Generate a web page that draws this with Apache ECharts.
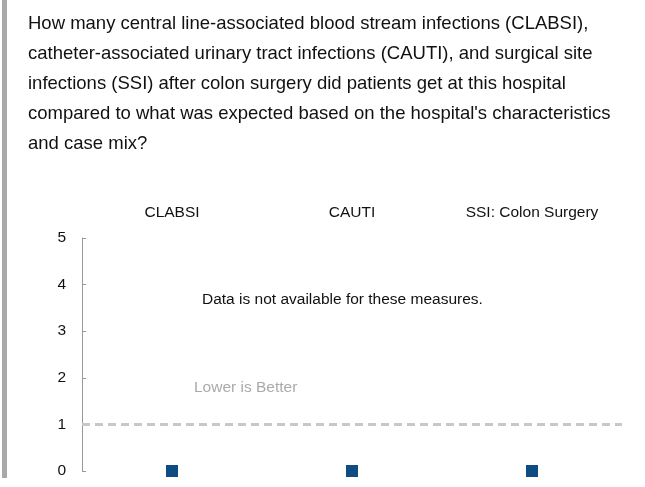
<!DOCTYPE html>
<html>
<head>
<meta charset="utf-8">
<script src="https://cdn.jsdelivr.net/npm/echarts@6/dist/echarts.min.js"></script>
<style>
  html, body { margin: 0; padding: 0; background: #fff; }
  #main { width: 645px; height: 487px; }
</style>
</head>
<body>
<div id="main"></div>
<script>
// measures shown across the top
var categories = ['CLABSI', 'CAUTI', 'SSI: Colon Surgery'];
// hospital values (no data available, drawn at 0)
var hospitalValues = [0, 0, 0];
// expected ratio reference line
var benchmark = 1;
var yTicks = [0, 1, 2, 3, 4, 5];

var questionLines = [
    'How many central line-associated blood stream infections (CLABSI),',
    'catheter-associated urinary tract infections (CAUTI), and surgical site',
    'infections (SSI) after colon surgery did patients get at this hospital',
    "compared to what was expected based on the hospital's characteristics",
    'and case mix?'
];

var font = 'Liberation Sans, Arial, sans-serif';
var myChart = echarts.init(document.getElementById('main'));

var option = {
    animation: false,
    grid: { left: 82, right: 23, top: 238, bottom: 16 },
    graphic: [
        { type: 'rect', left: 2, top: 0, shape: { width: 5, height: 478 }, style: { fill: '#a9a9a9' } },
        {
            type: 'text', left: 28, top: 9,
            style: { text: questionLines.join('\n'), font: '18.5px ' + font, lineHeight: 30, fill: '#111' }
        },
        {
            type: 'text', left: 202, top: 292,
            style: { text: 'Data is not available for these measures.', font: '15.5px ' + font, fill: '#111' }
        },
        {
            type: 'text', left: 194, top: 380,
            style: { text: 'Lower is Better', font: '15.5px ' + font, fill: '#aaa' }
        }
    ],
    xAxis: {
        type: 'category',
        position: 'top',
        data: categories,
        axisLine: { show: false },
        axisTick: { show: false },
        axisLabel: { margin: 17, fontSize: 15.5, fontFamily: font, color: '#111' }
    },
    yAxis: {
        type: 'value',
        min: yTicks[0],
        max: yTicks[yTicks.length - 1],
        interval: 1,
        axisLine: { show: true, lineStyle: { color: '#999', width: 1 } },
        axisTick: { show: true, inside: true, length: 4, lineStyle: { color: '#999' } },
        splitLine: { show: false },
        axisLabel: { margin: 16, fontSize: 15.5, fontFamily: font, color: '#111' }
    },
    series: [
        {
            type: 'scatter',
            data: hospitalValues,
            symbol: 'rect',
            symbolSize: 12,
            itemStyle: { color: '#0f4c81', opacity: 1 },
            markLine: {
                silent: true,
                symbol: 'none',
                label: { show: false },
                lineStyle: { color: '#c8c8c8', type: [8, 5], width: 3 },
                data: [{ yAxis: benchmark }]
            }
        }
    ]
};

myChart.setOption(option);
window.addEventListener('resize', function () {
    myChart.resize();
});
</script>
</body>
</html>
